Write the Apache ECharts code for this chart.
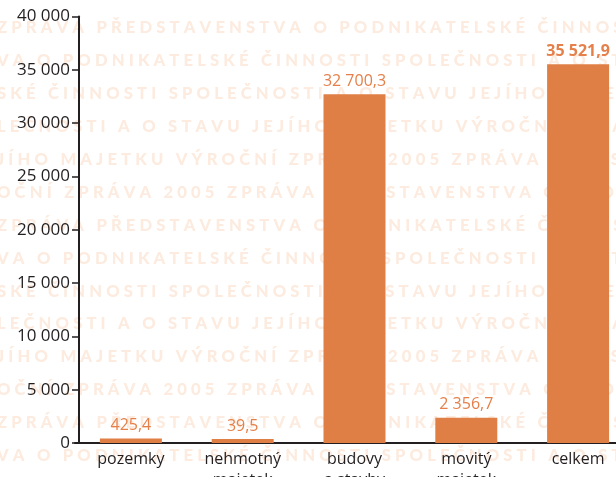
<!DOCTYPE html>
<html>
<head>
<meta charset="utf-8">
<script src="https://cdn.jsdelivr.net/npm/echarts@6/dist/echarts.min.js"></script>
<style>
html,body{margin:0;padding:0;background:#fff;}
#chart{width:616px;height:477px;}
</style>
</head>
<body>
<div id="chart"></div>
<script>
// ---- data ----
var categories = ['pozemky', 'nehmotný\nmajetek', 'budovy\na stavby', 'movitý\nmajetek', 'celkem'];
var values = [425.4, 39.5, 32700.3, 2356.7, 35521.9];
var boldLabel = [false, false, false, false, true];
var yMin = 0, yMax = 40000, yStep = 5000;

// ---- watermark text (decoration) ----
var wmStream = 'ZPRÁVA PŘEDSTAVENSTVA O PODNIKATELSKÉ ČINNOSTI SPOLEČNOSTI A O STAVU JEJÍHO MAJETKU VÝROČNÍ ZPRÁVA 2005 ';
var wmRowStarts = [87, 0, 19, 34, 50, 71, 87, 0, 19, 34, 50, 71, 87, 0, 19];

function fmt(v, dec) {
  var s = dec ? v.toFixed(1) : Math.round(v).toString();
  var parts = s.split('.');
  var ip = parts[0].replace(/\B(?=(\d{3})+(?!\d))/g, ' ');
  return parts.length > 1 ? ip + ',' + parts[1] : ip;
}

function wmLine(start) {
  var out = '';
  for (var i = 0; i < 60; i++) {
    var ch = wmStream.charAt((start + i) % wmStream.length);
    out += (ch === ' ' ? '\u2005' : ch) + '\u2005';
  }
  return out;
}

var graphics = [];
for (var k = 0; k < wmRowStarts.length; k++) {
  graphics.push({
    type: 'text',
    silent: true,
    z: -10,
    x: -3,
    y: 28 + 32.9 * (k - 1),
    style: {
      text: wmLine(wmRowStarts[k]),
      fill: '#fcebde',
      font: '900 16.6px Lato, "Open Sans", sans-serif',
      verticalAlign: 'middle',
      align: 'left'
    }
  });
}

var chart = echarts.init(document.getElementById('chart'), null, {renderer: 'canvas'});
chart.setOption({
  animation: false,
  backgroundColor: '#ffffff',
  graphic: graphics,
  grid: {left: 75, top: 16.5, bottom: 34, width: 559, containLabel: false, outerBoundsMode: 'none'},
  xAxis: {
    type: 'category',
    data: categories,
    axisLine: {show: true, lineStyle: {color: '#231f20', width: 2}},
    axisTick: {show: false},
    axisLabel: {
      color: '#231f20',
      fontSize: 16,
      fontFamily: '"Open Sans", sans-serif',
      lineHeight: 21,
      margin: 6,
      interval: 0
    },
    splitLine: {show: false}
  },
  yAxis: {
    type: 'value',
    min: yMin,
    max: yMax,
    interval: yStep,
    offset: -4,
    axisLine: {show: true, lineStyle: {color: '#231f20', width: 2}},
    axisTick: {show: true, length: 7, lineStyle: {color: '#231f20', width: 1.5}},
    axisLabel: {
      color: '#231f20',
      fontSize: 17,
      fontFamily: '"Open Sans", sans-serif',
      margin: 9,
      formatter: function (v) { return fmt(v, false); }
    },
    splitLine: {show: false}
  },
  series: [{
    type: 'bar',
    barWidth: 62,
    barMinHeight: 4,
    data: values.map(function (v, i) {
      return {
        value: v,
        label: {fontWeight: boldLabel[i] ? 'bold' : 'normal'}
      };
    }),
    itemStyle: {color: '#e07f45'},
    label: {
      show: true,
      position: 'top',
      distance: 5,
      color: '#e5804a',
      fontSize: 16,
      fontFamily: '"Open Sans", sans-serif',
      formatter: function (p) { return fmt(p.value, true); }
    }
  }]
});
</script>
</body>
</html>
